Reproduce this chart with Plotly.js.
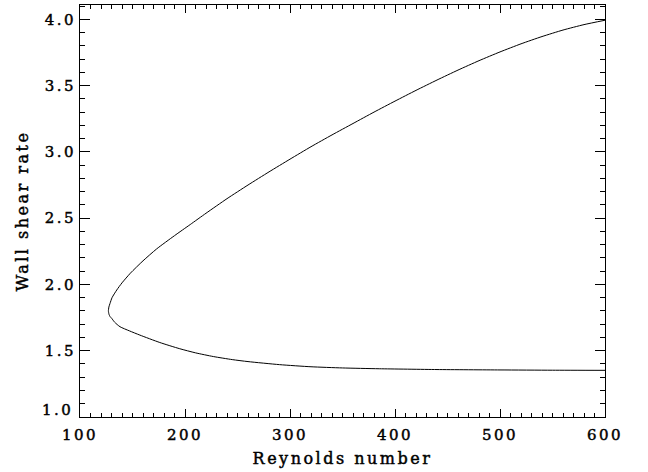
<!DOCTYPE html>
<html>
<head>
<meta charset="utf-8">
<script src="https://cdn.plot.ly/plotly-3.0.1.min.js"></script>
<style>
html,body{margin:0;padding:0;background:#fff;}
.xtick text, .ytick text, .annotation-text { letter-spacing: 2.5px; stroke: #000; stroke-width: 0.45px; }
.xtitle, .ytitle { letter-spacing: 2.5px; stroke: #000; stroke-width: 0.45px; }
</style>
</head>
<body>
<div id="chart" style="width:648px;height:472px;"></div>
<script>
// Upper branch (from the turning point towards high Reynolds number)
var upperRe  = [127.0, 127.5, 128.6, 130.5, 135, 140, 148, 160, 173, 190, 205, 220, 240, 260, 280, 300, 320, 340, 360, 380, 400, 420, 440, 460, 480, 500, 520, 540, 560, 580, 600];
var upperTau = [1.800, 1.830, 1.857, 1.900, 1.958, 2.012, 2.085, 2.178, 2.268, 2.368, 2.452, 2.537, 2.647, 2.750, 2.849, 2.945, 3.039, 3.128, 3.214, 3.300, 3.383, 3.464, 3.542, 3.617, 3.688, 3.754, 3.815, 3.870, 3.919, 3.960, 3.993];
// Lower branch (from the turning point towards high Reynolds number)
var lowerRe  = [127.0, 127.6, 128.6, 130.2, 133, 138.1, 147, 157, 176, 195, 210, 227, 245, 260, 290, 320, 350, 385, 440, 500, 550, 600];
var lowerTau = [1.800, 1.775, 1.758, 1.744, 1.715, 1.681, 1.650, 1.618, 1.562, 1.515, 1.484, 1.456, 1.433, 1.418, 1.395, 1.379, 1.370, 1.364, 1.358, 1.355, 1.353, 1.352];

var xTickVals = [100, 200, 300, 400, 500, 600];
var yTickVals = [1.0, 1.5, 2.0, 2.5, 3.0, 3.5, 4.0];
var yTickText = ['', '1.5', '2.0', '2.5', '3.0', '3.5', '4.0'];
var yBottomLabel = '1.0';

var curveRe = upperRe.slice().reverse().concat(lowerRe);
var curveTau = upperTau.slice().reverse().concat(lowerTau);

var fam = 'DejaVu Serif, serif';

var data = [{
  x: curveRe,
  y: curveTau,
  type: 'scatter',
  mode: 'lines',
  line: {color: '#000', width: 1, shape: 'spline', smoothing: 0.6},
  showlegend: false,
  hoverinfo: 'skip'
}];

var layout = {
  width: 648,
  height: 472,
  margin: {l: 80, r: 43, t: 5, b: 55},
  paper_bgcolor: '#fff',
  plot_bgcolor: '#fff',
  font: {family: fam, size: 15, color: '#000'},
  showlegend: false,
  xaxis: {
    range: [100, 600],
    tickvals: xTickVals,
    ticktext: xTickVals.map(String),
    ticks: 'inside',
    ticklen: 8,
    tickwidth: 1,
    tickcolor: '#000',
    ticklabelstandoff: 4,
    minor: {dtick: 10, tick0: 100, ticks: 'inside', ticklen: 4, tickcolor: '#000', tickwidth: 1, showgrid: false},
    showline: true,
    linecolor: '#000',
    linewidth: 1,
    mirror: 'ticks',
    showgrid: false,
    zeroline: false,
    tickfont: {family: fam, size: 15, color: '#000'},
    title: {text: 'Reynolds number', font: {family: fam, size: 16, color: '#000'}, standoff: 9}
  },
  yaxis: {
    range: [1.0, 4.108],
    tickvals: yTickVals,
    ticktext: yTickText,
    ticks: 'inside',
    ticklen: 10,
    tickwidth: 1,
    tickcolor: '#000',
    minor: {dtick: 0.1, tick0: 1.0, ticks: 'inside', ticklen: 5, tickcolor: '#000', tickwidth: 1, showgrid: false},
    showline: true,
    linecolor: '#000',
    linewidth: 1,
    mirror: 'ticks',
    showgrid: false,
    zeroline: false,
    tickfont: {family: fam, size: 15, color: '#000'},
    title: {text: 'Wall shear rate', font: {family: fam, size: 16, color: '#000'}, standoff: 12}
  },
  annotations: [{
    text: yBottomLabel,
    x: 0, xref: 'paper',
    y: 1.0, yref: 'y',
    xanchor: 'right', yanchor: 'middle',
    xshift: -5, yshift: 7,
    showarrow: false,
    font: {family: fam, size: 15, color: '#000'}
  }]
};

Plotly.newPlot('chart', data, layout, {displayModeBar: false, staticPlot: true});
</script>
</body>
</html>
